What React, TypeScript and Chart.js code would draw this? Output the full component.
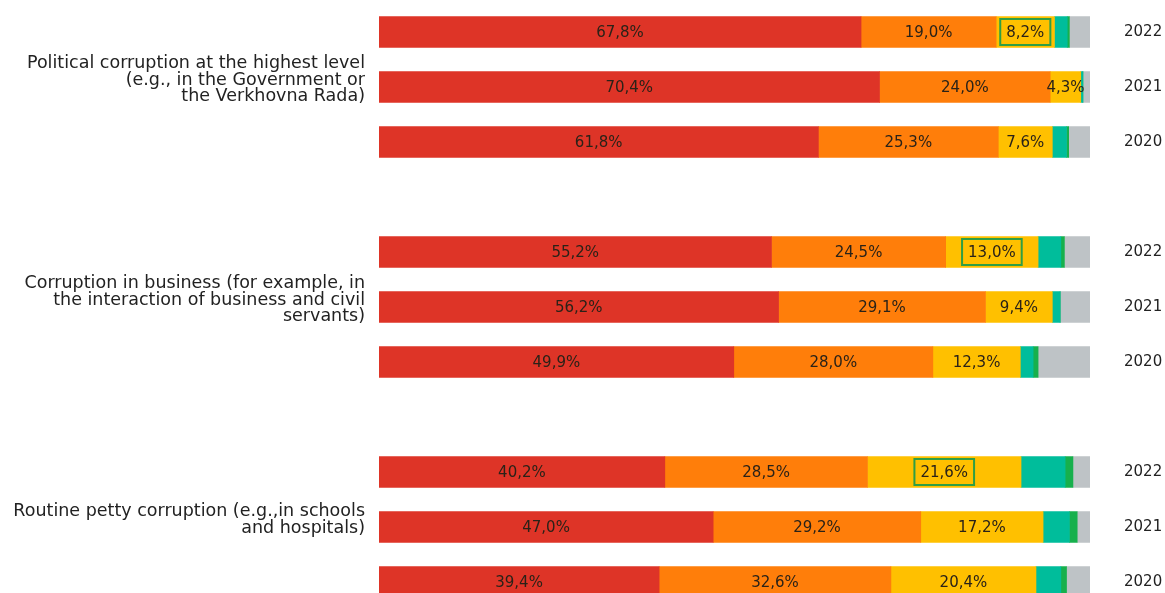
import { useEffect, useRef } from 'react';
import { Chart, registerables } from 'chart.js';

Chart.register(...registerables);

// rows top to bottom, empty rows separate the three groups
const years = ['2022', '2021', '2020', '', '2022', '2021', '2020', '', '2022', '2021', '2020'];
const groupLabels = [
  '',
  ['Political corruption at the highest level', '(e.g., in the Government or', 'the Verkhovna Rada)'],
  '',
  '',
  '',
  ['Corruption in business (for example, in', 'the interaction of business and civil', 'servants)'],
  '',
  '',
  '',
  ['Routine petty corruption (e.g.,in schools', 'and hospitals)'],
  '',
];

const red = [67.8, 70.4, 61.8, null, 55.2, 56.2, 49.9, null, 40.2, 47.0, 39.4];
const orange = [19.0, 24.0, 25.3, null, 24.5, 29.1, 28.0, null, 28.5, 29.2, 32.6];
const yellow = [8.2, 4.3, 7.6, null, 13.0, 9.4, 12.3, null, 21.6, 17.2, 20.4];
const teal = [1.8, 0.3, 2.0, null, 3.2, 1.1, 1.8, null, 6.2, 3.7, 3.5];
const green = [0.3, 0, 0.3, null, 0.5, 0, 0.7, null, 1.1, 1.1, 0.8];
const gray = [2.9, 1.0, 3.0, null, 3.6, 4.2, 7.3, null, 2.4, 1.8, 3.3];

// yellow values that get a green frame
const framedRows = [0, 4, 8];

const FONT = '"DejaVu Sans", sans-serif';

const valueLabels = {
  id: 'valueLabels',
  afterDatasetsDraw(chart: Chart) {
    const { ctx } = chart;
    ctx.save();
    ctx.font = `15px ${FONT}`;
    ctx.textAlign = 'center';
    ctx.textBaseline = 'middle';
    for (let d = 0; d < 3; d++) {
      const meta = chart.getDatasetMeta(d);
      const data = chart.data.datasets[d].data as (number | null)[];
      meta.data.forEach((el: any, i: number) => {
        const v = data[i];
        if (v == null) return;
        const { x, y, base } = el.getProps(['x', 'y', 'base'], true);
        const cx = (x + base) / 2;
        const text = v.toFixed(1).replace('.', ',') + '%';
        if (d === 2 && framedRows.includes(i)) {
          const w = ctx.measureText(text).width + 12;
          ctx.strokeStyle = '#2f9e44';
          ctx.lineWidth = 2;
          ctx.strokeRect(cx - w / 2, y - 13, w, 26);
        }
        ctx.fillStyle = '#2a2218';
        ctx.fillText(text, cx, y + 1);
      });
    }
    ctx.restore();
  },
};

// fixed axis width, and no extra top/bottom padding from the tick labels
const fitAxis = (width: number) => (scale: any) => {
  scale.width = width;
  scale.paddingTop = 0;
  scale.paddingBottom = 0;
};

export default function App() {
  const chartRef = useRef<HTMLCanvasElement>(null);
  const chartInstance = useRef<Chart | null>(null);

  useEffect(() => {
    document.body.style.margin = '0';
    document.body.style.overflow = 'hidden';
    if (!chartRef.current) return;

    if (chartInstance.current) {
      chartInstance.current.destroy();
    }

    const ctx = chartRef.current.getContext('2d');
    if (ctx) {
      const series = [
        { data: red, color: '#de3427' },
        { data: orange, color: '#ff7e0a' },
        { data: yellow, color: '#ffc000' },
        { data: teal, color: '#00bd9b' },
        { data: green, color: '#17b04c' },
        { data: gray, color: '#bec3c6' },
      ];
      chartInstance.current = new Chart(ctx, {
        type: 'bar',
        data: {
          labels: years,
          datasets: series.map((s) => ({
            data: s.data,
            backgroundColor: s.color,
            borderWidth: 0,
            barThickness: 31,
          })),
        },
        options: {
          indexAxis: 'y',
          responsive: false,
          animation: false,
          layout: { padding: { top: 4.5, bottom: 0.5, left: 0, right: 0 } },
          scales: {
            x: {
              stacked: true,
              min: 0,
              max: 100,
              display: false,
            },
            y: {
              stacked: true,
              position: 'left',
              labels: groupLabels as any,
              offset: true,
              grid: { display: false, drawTicks: false },
              border: { display: false },
              afterFit: fitAxis(379),
              ticks: {
                autoSkip: false,
                padding: 14,
                labelOffset: -7,
                color: '#222',
                font: { family: FONT, size: 17.5, lineHeight: 0.95 },
              },
            },
            y2: {
              type: 'category',
              position: 'right',
              labels: years,
              offset: true,
              grid: { display: false, drawTicks: false },
              border: { display: false },
              afterFit: fitAxis(75),
              ticks: {
                autoSkip: false,
                padding: 34,
                color: '#222',
                font: { family: FONT, size: 15 },
              },
            },
          },
          plugins: {
            legend: { display: false },
            tooltip: { enabled: false },
          },
        },
        plugins: [valueLabels],
      });
    }

    return () => {
      if (chartInstance.current) {
        chartInstance.current.destroy();
        chartInstance.current = null;
      }
    };
  }, []);

  return (
    <div style={{ width: 1165, height: 593, overflow: 'hidden', background: '#fff' }}>
      <canvas ref={chartRef} width={1165} height={610} style={{ width: 1165, height: 610 }}></canvas>
    </div>
  );
}
